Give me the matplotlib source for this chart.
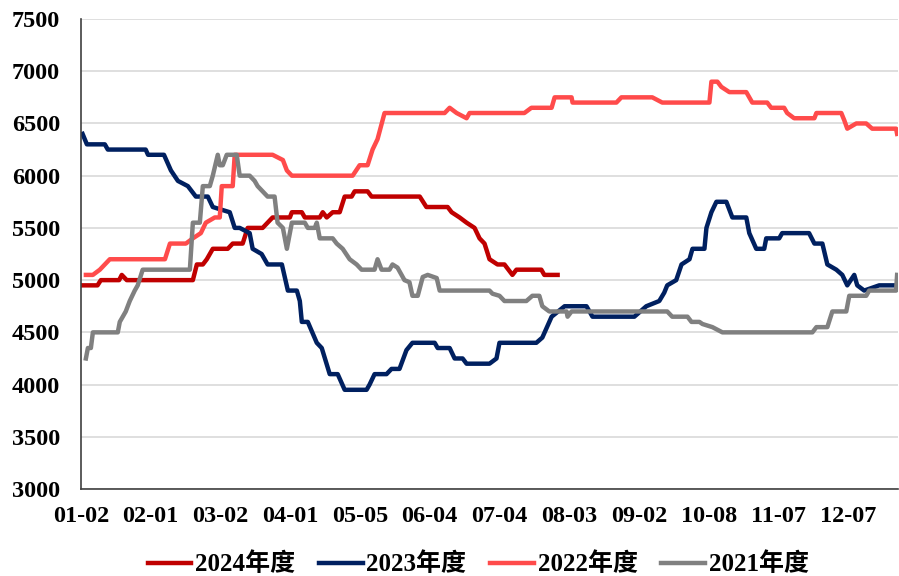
import matplotlib.pyplot as plt

# x 为交易日序号, 值为价格
tick_labels = ['01-02', '02-01', '03-02', '04-01', '05-05', '06-04',
               '07-04', '08-03', '09-02', '10-08', '11-07', '12-07']
tick_pos = [0, 21, 42, 63, 84, 105, 126, 147, 168, 189, 210, 231]

x_2024 = [0, 5, 6, 11.5, 12.3, 13.8, 33.7, 34.9, 36.7, 37.9, 39.7, 44.2, 45.7, 48.7, 50.2,
          54.7, 56.2, 57.7, 62.9, 63.5, 66.5, 67.4, 71.9, 72.8, 74, 75.8, 77.9, 79.4,
          81.5, 82.4, 86.3, 87.5, 102, 104, 110.4, 111.6, 114, 116.1, 118.5, 120, 121.5,
          123, 125.4, 127.5, 129.9, 131.1, 138.6, 139.5, 143.5]
y_2024 = [4950, 4950, 5000, 5000, 5050, 5000, 5000, 5150, 5150, 5200, 5300, 5300, 5350,
          5350, 5500, 5500, 5550, 5600, 5600, 5650, 5650, 5600, 5600, 5650, 5600, 5650,
          5650, 5800, 5800, 5850, 5850, 5800, 5800, 5700, 5700, 5650, 5600, 5550, 5500,
          5400, 5350, 5200, 5150, 5150, 5050, 5100, 5100, 5050, 5050]

x_2023 = [0.5, 1.8, 7.2, 8.1, 19.5, 20.2, 25, 27.1, 29.2, 32.2, 34.6, 38.2, 39.7, 44.8,
          46.3, 47.8, 50.8, 51.7, 54.4, 56.2, 60.5, 62.3, 65, 65.9, 66.5, 68.3, 71, 72.5,
          74.9, 77.3, 79.4, 86, 86.9, 88.4, 92, 93.5, 95.9, 98, 99.8, 106.5, 107.4, 111,
          112.5, 114.9, 116.1, 123, 125.1, 126, 137.1, 138.9, 141.7, 145.6, 152.2, 154,
          166.6, 170.2, 174.1, 175.6, 176.5, 179.2, 180.8, 183.2, 184.1, 187.7, 188.3,
          189.8, 191.3, 194.3, 196.1, 200.3, 201.2, 203.3, 205.7, 206.3, 210.2, 211.1,
          219.2, 220.8, 223.2, 224.7, 227.4, 229.2, 230.7, 232.8, 233.7, 235.8, 240.3, 245.7]
y_2023 = [6400, 6300, 6300, 6250, 6250, 6200, 6200, 6050, 5950, 5900, 5800, 5800, 5700,
          5650, 5500, 5500, 5450, 5300, 5250, 5150, 5150, 4900, 4900, 4800, 4600, 4600,
          4400, 4350, 4100, 4100, 3950, 3950, 4000, 4100, 4100, 4150, 4150, 4330, 4400,
          4400, 4350, 4350, 4250, 4250, 4200, 4200, 4250, 4400, 4400, 4450, 4650, 4750,
          4750, 4650, 4650, 4750, 4800, 4880, 4950, 5000, 5150, 5200, 5300, 5300, 5500,
          5650, 5750, 5750, 5600, 5600, 5450, 5300, 5300, 5400, 5400, 5450, 5450, 5350,
          5350, 5150, 5100, 5050, 4950, 5050, 4950, 4900, 4950, 4950]

x_2022 = [1.5, 3.6, 5.7, 7.2, 8.7, 25.3, 26.8, 31.6, 33.7, 36.1, 37.6, 40.3, 41.8, 42.4,
          45.7, 46.3, 57.7, 60.8, 62, 63.5, 81.8, 83.9, 86.3, 87.8, 89.3, 91.4, 109.5,
          111, 113.1, 116.1, 117, 133.5, 135.6, 141.7, 142.6, 147.7, 148, 161.2, 162.7,
          172, 175, 189.2, 189.8, 191.6, 192.8, 195.2, 200.3, 202.1, 206.6, 207.8, 211.7,
          212.6, 214.7, 220.8, 221.4, 228.9, 229.8, 230.7, 233.4, 236.4, 238.2, 245.4, 245.7]
y_2022 = [5050, 5050, 5100, 5150, 5200, 5200, 5350, 5350, 5400, 5450, 5550, 5600, 5600,
          5900, 5900, 6200, 6200, 6150, 6050, 6000, 6000, 6100, 6100, 6250, 6350, 6600,
          6600, 6650, 6600, 6550, 6600, 6600, 6650, 6650, 6750, 6750, 6700, 6700, 6750,
          6750, 6700, 6700, 6900, 6900, 6850, 6800, 6800, 6700, 6700, 6650, 6650, 6600,
          6550, 6550, 6600, 6600, 6530, 6450, 6500, 6500, 6450, 6450, 6400]

x_2021 = [1.5, 2.1, 3, 3.6, 11.1, 11.7, 12.6, 13.5, 14.7, 16.2, 17.1, 18.6, 32.8, 33.7,
          35.8, 36.7, 38.8, 39.7, 41.2, 41.8, 42.7, 43.9, 46.9, 47.8, 50.8, 52.3, 53.2,
          54.7, 56.2, 58.3, 59.2, 60.8, 62, 63.5, 67.4, 68.3, 70.4, 71, 71.9, 75.8, 77,
          78.8, 80.9, 83, 84.5, 88.4, 89.3, 90.5, 92.9, 93.8, 95.3, 97.4, 98.9, 99.8,
          101.4, 102.9, 104.4, 107.1, 108, 123, 123.9, 126, 127.5, 134.1, 135.9, 138,
          138.9, 141, 146.2, 146.5, 147.7, 176.5, 178, 182.6, 183.8, 186.2, 187.1, 190.1,
          193.1, 220.2, 221.4, 224.7, 226.2, 230.4, 231.3, 236.4, 237.3, 245.4, 245.7]
y_2021 = [4250, 4350, 4350, 4500, 4500, 4600, 4650, 4700, 4800, 4900, 4950, 5100, 5100,
          5550, 5550, 5900, 5900, 6000, 6200, 6100, 6100, 6200, 6200, 6000, 6000, 5950,
          5900, 5850, 5800, 5800, 5550, 5500, 5300, 5550, 5550, 5500, 5500, 5550, 5400,
          5400, 5350, 5300, 5200, 5150, 5100, 5100, 5200, 5100, 5100, 5150, 5120, 5000,
          4980, 4850, 4850, 5030, 5050, 5020, 4900, 4900, 4870, 4850, 4800, 4800, 4850,
          4850, 4750, 4700, 4700, 4650, 4700, 4700, 4650, 4650, 4600, 4600, 4580, 4550,
          4500, 4500, 4550, 4550, 4700, 4700, 4850, 4850, 4900, 4900, 5050]

y_ticks = [3000, 3500, 4000, 4500, 5000, 5500, 6000, 6500, 7000, 7500]

font_family = ['Liberation Serif', 'Noto Sans CJK SC']
plt.rcParams['font.family'] = font_family
plt.rcParams['font.weight'] = 'bold'

fig = plt.figure(figsize=(8.99, 5.76), dpi=100)
ax = fig.add_axes([0.090, 0.151, 0.909, 0.816])

lw = 3.2
ax.plot(x_2024, y_2024, color='#C00000', lw=lw, label='2024年度')
ax.plot(x_2023, y_2023, color='#002060', lw=lw, label='2023年度')
ax.plot(x_2022, y_2022, color='#FF4B4B', lw=lw, label='2022年度')
ax.plot(x_2021, y_2021, color='#808080', lw=lw, label='2021年度')

ax.set_xlim(0, 246)
ax.set_ylim(3000, 7500)
ax.set_yticks(y_ticks)
ax.set_xticks(tick_pos)
ax.set_xticklabels(tick_labels)
ax.grid(axis='y', color='#D9D9D9', lw=1.2)
ax.set_axisbelow(True)

for s in ['top', 'right']:
    ax.spines[s].set_visible(False)
for s in ['left', 'bottom']:
    ax.spines[s].set_color('#404040')
    ax.spines[s].set_linewidth(1.2)

ax.tick_params(axis='y', length=0, pad=15, labelsize=17.5)
ax.tick_params(axis='x', length=0, pad=12, labelsize=17.5)
for lab in ax.get_xticklabels() + ax.get_yticklabels():
    lab.set_fontweight('bold')

fig.legend(loc='center', bbox_to_anchor=(0.532, 0.02), ncol=4, frameon=False,
           prop={'family': font_family, 'size': 18, 'weight': 'bold'},
           handlelength=1.75, handletextpad=0.15, columnspacing=0.95)

fig.savefig('out.png', dpi=100)
